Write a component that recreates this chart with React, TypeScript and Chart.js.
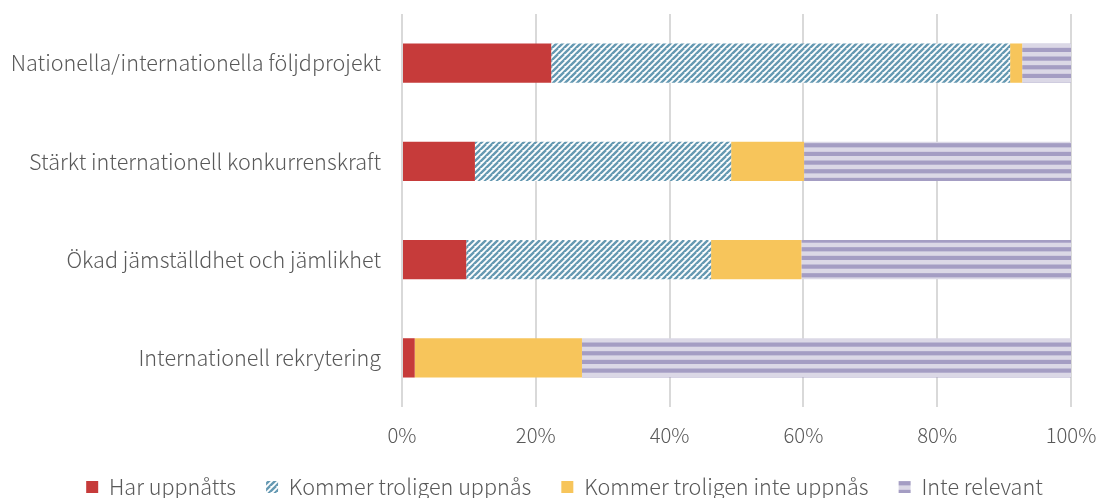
import React, { useEffect, useRef } from "react";
import { Chart, registerables } from "chart.js";

Chart.register(...registerables);

const categories = [
  "Nationella/internationella följdprojekt",
  "Stärkt internationell konkurrenskraft",
  "Ökad jämställdhet och jämlikhet",
  "Internationell rekrytering",
];
const seriesNames = [
  "Har uppnåtts",
  "Kommer troligen uppnås",
  "Kommer troligen inte uppnås",
  "Inte relevant",
];
const harUppnatts = [22.3, 10.9, 9.6, 1.9];
const kommerUppnas = [68.6, 38.3, 36.6, 0];
const kommerInteUppnas = [1.8, 10.9, 13.5, 25.0];
const inteRelevant = [7.3, 39.9, 40.3, 73.1];
const xTicks = [0, 20, 40, 60, 80, 100];

const FONT = "'Noto Sans CJK JP', 'Noto Sans', sans-serif";
const TEXT = "#595959";

function makeDiag(): CanvasPattern | string {
  const c = document.createElement("canvas");
  const s = 6;
  c.width = s;
  c.height = s;
  const ctx = c.getContext("2d");
  if (!ctx) return "#6a9fb6";
  ctx.fillStyle = "#ffffff";
  ctx.fillRect(0, 0, s, s);
  ctx.strokeStyle = "#6599b2";
  ctx.lineWidth = 2.4;
  for (let k = -1; k <= 2; k++) {
    ctx.beginPath();
    ctx.moveTo(k * s - s, s + s);
    ctx.lineTo(k * s + s, -s + s);
    ctx.stroke();
  }
  return ctx.createPattern(c, "repeat") || "#6a9fb6";
}

function makeHoriz(): CanvasPattern | string {
  const c = document.createElement("canvas");
  c.width = 4;
  c.height = 26;
  const ctx = c.getContext("2d");
  if (!ctx) return "#a49dc3";
  ctx.fillStyle = "#dbd8e6";
  ctx.fillRect(0, 0, 4, 26);
  ctx.fillStyle = "#a49dc3";
  const p = 26 / 3;
  for (let i = 0; i < 3; i++) {
    ctx.fillRect(0, i * p + 4.5, 4, 4.2);
  }
  return ctx.createPattern(c, "repeat") || "#a49dc3";
}

const legendShift = {
  id: "legendShift",
  afterLayout(chart: any) {
    const lg = chart.legend;
    if (lg) {
      lg.left += 29;
      lg.right += 29;
    }
  },
};

export default function App() {
  const ref = useRef<HTMLCanvasElement | null>(null);
  useEffect(() => {
    if (!ref.current) return;
    const diag = makeDiag();
    const horiz = makeHoriz();
    const colors: any[] = ["#c63b3a", diag, "#f7c55b", horiz];
    const values = [harUppnatts, kommerUppnas, kommerInteUppnas, inteRelevant];
    const chart = new Chart(ref.current, {
      type: "bar",
      data: {
        labels: categories,
        datasets: seriesNames.map((name, i) => ({
          label: name,
          data: values[i],
          backgroundColor: colors[i],
          borderWidth: 0,
          barPercentage: 0.4,
          categoryPercentage: 1,
        })),
      },
      plugins: [legendShift],
      options: {
        indexAxis: "y",
        animation: false,
        responsive: false,
        maintainAspectRatio: false,
        layout: { padding: { top: 14, right: 29, left: 0, bottom: -9.8 } },
        plugins: {
          tooltip: { enabled: false },
          legend: {
            position: "bottom",
            labels: {
              font: { family: FONT, size: 21.6, weight: "300" },
              color: TEXT,
              boxWidth: 12,
              boxHeight: 12,
              padding: 30,
            },
          },
        },
        scales: {
          x: {
            stacked: true,
            min: 0,
            max: 100,
            afterBuildTicks: (scale: any) => {
              scale.ticks = xTicks.map((v) => ({ value: v }));
            },
            afterFit: (scale: any) => {
              scale.height = 39.2;
              scale.paddingLeft = 0;
              scale.paddingRight = 0;
            },
            ticks: {
              callback: (v: any) => v + "%",
              font: { family: FONT, size: 20.3, weight: "300" },
              color: TEXT,
              padding: 16,
              maxRotation: 0,
            },
            grid: { color: "#d9d9d9", lineWidth: 2, drawTicks: false },
            border: { display: false },
          },
          y: {
            stacked: true,
            afterFit: (scale: any) => {
              scale.width = 402;
              scale.paddingTop = 0;
              scale.paddingBottom = 0;
            },
            ticks: {
              font: { family: FONT, size: 21.6, weight: "300" },
              color: TEXT,
              padding: 21,
            },
            grid: { display: false, drawTicks: false },
            border: { display: false },
          },
        },
      },
    });
    return () => chart.destroy();
  }, []);
  return (
    <div style={{ position: "absolute", left: 0, top: 0, width: 1100, height: 498, background: "#fff" }}>
      <canvas ref={ref} width={1100} height={498} style={{ width: 1100, height: 498 }} />
    </div>
  );
}
